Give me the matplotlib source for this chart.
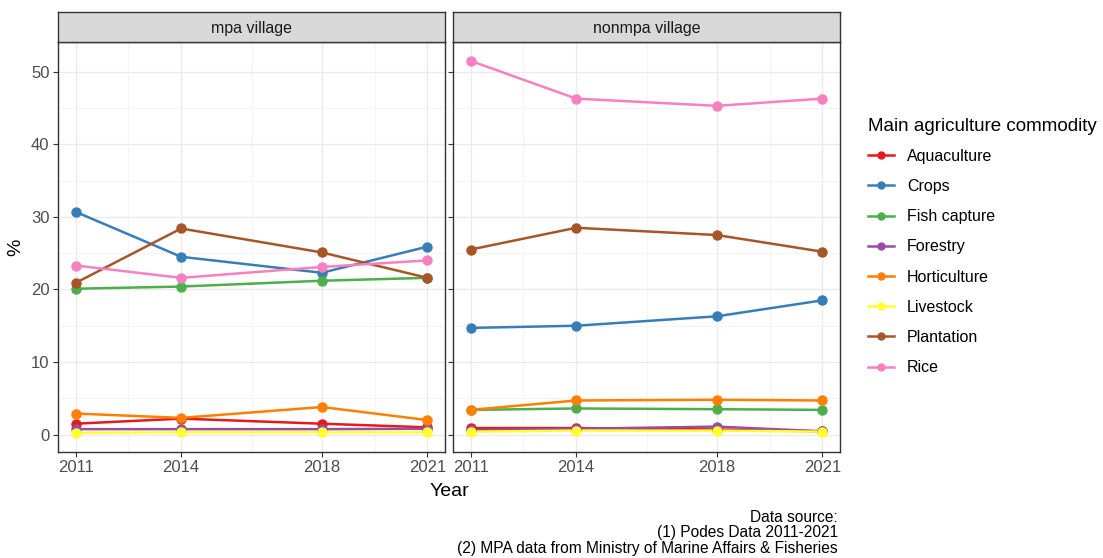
import matplotlib
matplotlib.use("Agg")
import matplotlib.pyplot as plt
from matplotlib.lines import Line2D

plt.rcParams['font.family'] = ['Liberation Sans', 'DejaVu Sans']

years = [2011, 2014, 2018, 2021]
commodities = ["Aquaculture", "Crops", "Fish capture", "Forestry",
               "Horticulture", "Livestock", "Plantation", "Rice"]
colors = ["#E41A1C", "#377EB8", "#4DAF4A", "#984EA3",
          "#FF7F00", "#FFFF33", "#A65628", "#F781BF"]

# Share of villages (%) by main agriculture commodity
mpa_aquaculture = [1.5, 2.2, 1.5, 1.0]
mpa_crops = [30.7, 24.5, 22.3, 25.9]
mpa_fish = [20.1, 20.4, 21.2, 21.6]
mpa_forestry = [0.75, 0.75, 0.75, 0.8]
mpa_horticulture = [2.9, 2.3, 3.8, 2.0]
mpa_livestock = [0.25, 0.3, 0.3, 0.3]
mpa_plantation = [20.9, 28.4, 25.1, 21.6]
mpa_rice = [23.3, 21.6, 23.1, 24.0]

non_aquaculture = [0.9, 0.9, 0.7, 0.45]
non_crops = [14.7, 15.0, 16.3, 18.5]
non_fish = [3.4, 3.6, 3.5, 3.4]
non_forestry = [0.6, 0.8, 1.1, 0.45]
non_horticulture = [3.4, 4.7, 4.8, 4.7]
non_livestock = [0.4, 0.55, 0.55, 0.4]
non_plantation = [25.5, 28.5, 27.5, 25.2]
non_rice = [51.5, 46.3, 45.3, 46.3]

panels = [
    ("mpa village", [mpa_aquaculture, mpa_crops, mpa_fish, mpa_forestry,
                     mpa_horticulture, mpa_livestock, mpa_plantation, mpa_rice]),
    ("nonmpa village", [non_aquaculture, non_crops, non_fish, non_forestry,
                        non_horticulture, non_livestock, non_plantation, non_rice]),
]

W, H = 1103, 558
fig = plt.figure(figsize=(W / 100, H / 100), dpi=100)

def fx(px):
    return px / W

def fy(py):
    return 1 - py / H

panel_x = [(58, 445), (453, 840)]
top, bottom, strip_top = 42, 452, 12

axes = []
for (x0, x1), (title, series) in zip(panel_x, panels):
    ax = fig.add_axes([fx(x0), fy(bottom), fx(x1 - x0), (bottom - top) / H])
    axes.append(ax)
    for vals, c in zip(series, colors):
        ax.plot(years, vals, color=c, lw=1.8, zorder=3, solid_capstyle='butt')
    for vals, c in zip(series, colors):
        ax.plot(years, vals, 'o', color=c, ms=6.5, mec=c, zorder=4)
    ax.set_xlim(2010.5, 2021.5)
    ax.set_ylim(-2.4, 54.1)
    ax.set_xticks(years)
    ax.set_yticks([0, 10, 20, 30, 40, 50])
    ax.set_xticks([2012.5, 2016, 2019.5], minor=True)
    ax.set_yticks([5, 15, 25, 35, 45], minor=True)
    ax.grid(True, which='major', color='#EBEBEB', lw=1.0, zorder=0)
    ax.grid(True, which='minor', color='#F2F2F2', lw=0.6, zorder=0)
    ax.set_axisbelow(True)
    for s in ax.spines.values():
        s.set_color('#333333')
        s.set_linewidth(1.0)
    ax.tick_params(which='major', length=3.6, width=0.8, color='#333333',
                   labelcolor='#4D4D4D', labelsize=12, pad=2.5)
    ax.tick_params(which='minor', length=0)

    sax = fig.add_axes([fx(x0), fy(top), fx(x1 - x0), (top - strip_top) / H])
    sax.set_facecolor('#D9D9D9')
    sax.set_xticks([])
    sax.set_yticks([])
    for s in sax.spines.values():
        s.set_color('#333333')
        s.set_linewidth(1.0)
    sax.text(0.5, 0.45, title, ha='center', va='center', fontsize=11.5,
             color='#1A1A1A', transform=sax.transAxes)

axes[1].tick_params(labelleft=False)

fig.text(fx(449), fy(491), "Year", ha='center', va='center', fontsize=14)
fig.text(fx(16), fy(247), "%", ha='center', va='center', fontsize=14,
         rotation=90)

handles = [Line2D([0], [0], color=c, lw=1.8, marker='o', ms=5)
           for c in colors]
leg = fig.legend(handles, commodities, title="Main agriculture commodity",
                 loc='upper left', bbox_to_anchor=(fx(868), fy(118)),
                 frameon=False, fontsize=11.5, title_fontsize=13.5,
                 handlelength=1.6, labelspacing=0.95, handletextpad=0.85,
                 borderaxespad=0, borderpad=0)
leg._legend_box.align = "left"
leg._legend_box.sep = 10

fig.text(fx(838), fy(533), "Data source:\n(1) Podes Data 2011-2021\n"
         "(2) MPA data from Ministry of Marine Affairs & Fisheries",
         ha='right', va='center', fontsize=11.2, linespacing=1.02,
         multialignment='right')

fig.savefig("out.png", dpi=100)
